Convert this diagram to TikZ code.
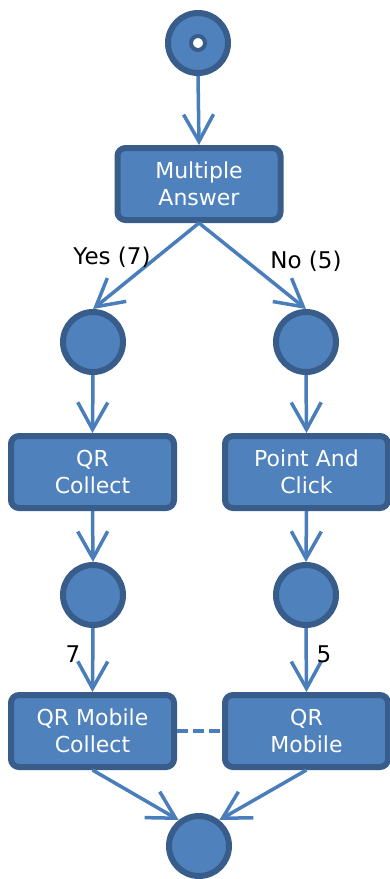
\documentclass[tikz,border=0pt]{standalone}
\usepackage{fontspec}
\setmainfont{DejaVu Sans}
\usetikzlibrary{arrows.meta}
\definecolor{boxfill}{HTML}{4F81BD}
\definecolor{boxline}{HTML}{385D8A}
\definecolor{arrowc}{HTML}{4A7EBB}
\tikzset{
  state/.style={circle, fill=boxfill, draw=boxline, line width=6pt, minimum size=60pt, inner sep=0pt},
  actbox/.style={rectangle, rounded corners=8pt, fill=boxfill, draw=boxline, line width=6pt,
    minimum width=163pt, minimum height=72pt, inner sep=0pt, align=center, text=white,
    font=\fontsize{22pt}{27pt}\selectfont},
  flow/.style={draw=arrowc, line width=3.5pt, -{Straight Barb[length=27pt,width=30pt]}},
  lbl/.style={text=black, font=\fontsize{23pt}{27pt}\selectfont, inner sep=0pt},
}
\begin{document}
\begin{tikzpicture}[x=1pt,y=-1pt]
\useasboundingbox (0,0) rectangle (389,879);
\node[state] (start) at (198,43) {};
\node[circle, fill=white, draw=boxline, line width=4pt, minimum size=14pt, inner sep=0pt] (dot) at (198,43) {};
\node[actbox] (ma) at (199,184) {Multiple\\Answer};
\node[state] (c1) at (93,342) {};
\node[state] (c2) at (306,342) {};
\node[actbox] (qc) at (92.5,472) {QR\\Collect};
\node[actbox] (pc) at (306.5,472) {Point And\\Click};
\node[state] (c3) at (93,595) {};
\node[state] (c4) at (306,595) {};
\node[actbox] (qmc) at (92.5,731) {QR Mobile\\Collect};
\node[actbox] (qm) at (306.5,731) {QR\\Mobile};
\node[state] (fin) at (199,846) {};
\draw[flow] (start.south) -- (ma.north);
\draw[flow] (ma.south) -- (c1.north);
\draw[flow] (ma.south) -- (c2.north);
\draw[flow] (c1.south) -- (qc.north);
\draw[flow] (c2.south) -- (pc.north);
\draw[flow] (qc.south) -- (c3.north);
\draw[flow] (pc.south) -- (c4.north);
\draw[flow] (c3.south) -- (qmc.north);
\draw[flow] (c4.south) -- (qm.north);
\draw[flow] (qmc.south) -- (fin.128);
\draw[flow] (qm.south) -- (fin.52);
\draw[draw=arrowc, line width=3.5pt, dash pattern=on 11pt off 5pt] (qmc.east) -- (qm.west);
\node[lbl] (ly) at (112,257) {Yes (7)};
\node[lbl] (ln) at (306,261) {No (5)};
\node[lbl] (l7) at (73,654) {7};
\node[lbl] (l5) at (324,654) {5};
\end{tikzpicture}
\end{document}
